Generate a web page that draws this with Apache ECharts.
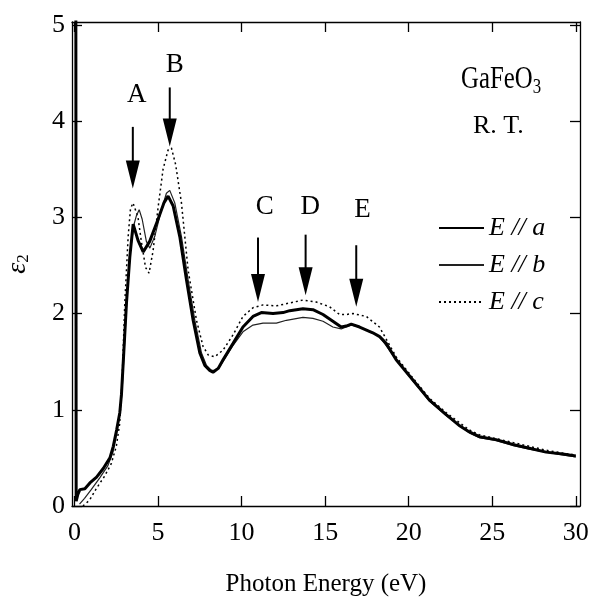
<!DOCTYPE html>
<html>
<head>
<meta charset="utf-8">
<script src="https://cdn.jsdelivr.net/npm/echarts@6/dist/echarts.min.js"></script>
<style>
html,body{margin:0;padding:0;background:#fff;}
#chart{width:592px;height:600px;}
</style>
</head>
<body>
<div id="chart"></div>
<script>
// eps2 spectra of GaFeO3 [energy eV, eps2]
var curveA = [[0.08,5.2],[0.1,0.05],[0.2,0.12],[0.32,0.17],[0.62,0.18],[0.92,0.24],[1.32,0.30],[1.72,0.39],[2.12,0.50],[2.32,0.62],[2.52,0.79],[2.71,0.97],[2.81,1.16],[2.95,1.6],[3.11,2.11],[3.31,2.59],[3.51,2.93],[3.61,2.92],[3.8,2.76],[4.11,2.64],[4.5,2.75],[5.0,2.98],[5.35,3.15],[5.6,3.22],[5.9,3.12],[6.3,2.80],[6.7,2.35],[7.1,1.93],[7.5,1.59],[7.8,1.46],[8.09,1.41],[8.29,1.39],[8.6,1.43],[8.89,1.52],[9.49,1.69],[10.08,1.86],[10.68,1.97],[11.18,2.01],[11.88,2.00],[12.48,2.01],[12.88,2.03],[13.67,2.05],[14.27,2.04],[14.87,1.99],[15.46,1.92],[15.96,1.86],[16.26,1.87],[16.56,1.89],[17.06,1.86],[17.85,1.80],[18.26,1.76],[18.65,1.69],[19.25,1.52],[20.25,1.31],[21.24,1.10],[22.24,0.95],[23.0,0.84],[23.63,0.77],[24.23,0.72],[25.23,0.69],[26.22,0.64],[27.22,0.60],[28.22,0.56],[29.21,0.54],[30.0,0.52]];
var curveB = [[0.3,0.02],[0.6,0.08],[1.0,0.17],[1.5,0.29],[2.0,0.42],[2.3,0.56],[2.55,0.78],[2.75,1.0],[2.85,1.2],[3.0,1.7],[3.15,2.2],[3.35,2.65],[3.55,2.92],[3.71,3.02],[3.87,3.08],[4.05,2.98],[4.3,2.75],[4.51,2.68],[4.8,2.8],[5.2,3.08],[5.5,3.25],[5.7,3.28],[6.0,3.15],[6.4,2.80],[6.8,2.35],[7.2,1.93],[7.6,1.59],[7.9,1.46],[8.2,1.41],[8.39,1.41],[8.7,1.45],[9.0,1.53],[9.49,1.67],[10.08,1.81],[10.68,1.88],[11.28,1.90],[12.08,1.90],[12.68,1.93],[13.67,1.96],[14.27,1.95],[14.87,1.92],[15.46,1.86],[15.96,1.84],[16.26,1.86],[16.56,1.88],[17.06,1.86],[17.85,1.80],[18.26,1.76],[19.25,1.52],[20.25,1.30],[21.24,1.09],[22.24,0.94],[23.63,0.76],[24.23,0.71],[25.23,0.68],[26.22,0.63],[27.22,0.59],[28.22,0.56],[29.21,0.53],[30.0,0.51]];
var curveC = [[0.5,0.0],[0.9,0.06],[1.3,0.18],[1.8,0.31],[2.2,0.44],[2.5,0.62],[2.7,0.85],[2.85,1.3],[3.01,2.11],[3.21,2.80],[3.35,3.09],[3.5,3.15],[3.61,3.16],[3.8,3.0],[4.0,2.75],[4.25,2.48],[4.46,2.42],[4.7,2.65],[5.0,3.1],[5.3,3.5],[5.6,3.70],[5.8,3.72],[6.05,3.55],[6.4,3.15],[6.8,2.45],[7.3,1.93],[7.69,1.66],[8.0,1.57],[8.39,1.55],[8.89,1.62],[9.49,1.78],[10.08,1.97],[10.68,2.06],[11.28,2.09],[12.08,2.08],[12.88,2.11],[13.67,2.14],[14.47,2.12],[15.27,2.07],[15.86,1.99],[16.26,1.99],[16.66,2.00],[17.46,1.97],[18.25,1.86],[19.25,1.55],[20.25,1.33],[21.24,1.12],[22.24,0.97],[23.63,0.79],[24.23,0.74],[25.23,0.70],[26.22,0.66],[27.22,0.62],[28.22,0.58],[29.21,0.55],[30.0,0.53]];

var seriesNames = ['E // a', 'E // b', 'E // c'];

// arrows A-E: x, tip y, tail y, letter x, letter y
var arrowLetters = ['A','B','C','D','E'];
var arrowX = [3.49, 5.70, 10.98, 13.83, 16.86];
var arrowTip = [3.30, 3.735, 2.12, 2.19, 2.07];
var arrowTail = [3.94, 4.35, 2.79, 2.82, 2.71];
var letterX = [3.73, 6.0, 11.38, 14.1, 17.24];
var letterY = [4.27, 4.58, 3.11, 3.11, 3.08];

var xTicks = [0, 5, 10, 15, 20, 25, 30];
var yTicks = [0, 1, 2, 3, 4, 5];

var serif = "'Liberation Serif','Times New Roman',serif";

var arrowData = [];
for (var i = 0; i < arrowX.length; i++) {
    arrowData.push([arrowX[i], arrowTip[i], arrowTail[i], letterX[i], letterY[i]]);
}

var chart = echarts.init(document.getElementById('chart'));

var frameLine = {onZero: false, lineStyle: {color: '#000', width: 1.3}};
var tickIn = {inside: true, length: 10, lineStyle: {color: '#000', width: 1.3}};

option = {
    backgroundColor: '#fff',
    animation: false,
    grid: {left: 72, right: 12, top: 22, bottom: 94, containLabel: false, outerBoundsMode: 'none'},
    legend: {
        data: seriesNames,
        orient: 'vertical',
        left: 438,
        top: 213,
        padding: 0,
        itemWidth: 45,
        itemHeight: 14,
        itemGap: 7,
        itemStyle: {opacity: 0},
        textStyle: {fontFamily: serif, fontStyle: 'italic', fontSize: 26, lineHeight: 30, color: '#000'}
    },
    xAxis: [{
        type: 'value',
        min: -0.15,
        max: 30.25,
        position: 'bottom',
        axisLine: frameLine,
        axisTick: Object.assign({customValues: xTicks}, tickIn),
        axisLabel: {customValues: xTicks, margin: 14, color: '#000', fontFamily: serif, fontSize: 26},
        splitLine: {show: false},
        name: 'Photon Energy (eV)',
        nameLocation: 'middle',
        nameGap: 66,
        nameTextStyle: {color: '#000', fontFamily: serif, fontSize: 25}
    }, {
        type: 'value',
        min: -0.15,
        max: 30.25,
        position: 'top',
        axisLine: frameLine,
        axisTick: Object.assign({customValues: xTicks}, tickIn),
        axisLabel: {show: false},
        splitLine: {show: false}
    }],
    yAxis: [{
        type: 'value',
        min: 0,
        max: 5.03,
        position: 'left',
        axisLine: frameLine,
        axisTick: Object.assign({customValues: yTicks}, tickIn),
        axisLabel: {customValues: yTicks, margin: 7, color: '#000', fontFamily: serif, fontSize: 26},
        splitLine: {show: false},
        name: '{e|ε}{s|2}',
        nameLocation: 'middle',
        nameGap: 40,
        nameTextStyle: {
            color: '#000',
            rich: {
                e: {fontFamily: serif, fontStyle: 'italic', fontSize: 28, color: '#000'},
                s: {fontFamily: serif, fontSize: 17, color: '#000', padding: [12, 0, 0, 0]}
            }
        }
    }, {
        type: 'value',
        min: 0,
        max: 5.03,
        position: 'right',
        axisLine: frameLine,
        axisTick: Object.assign({customValues: yTicks}, tickIn),
        axisLabel: {show: false},
        splitLine: {show: false}
    }],
    graphic: [{
        type: 'text',
        left: 461,
        top: 64,
        scaleX: 0.8,
        style: {
            rich: {
                m: {fontFamily: serif, fontSize: 31, color: '#000'},
                s: {fontFamily: serif, fontSize: 21, color: '#000', padding: [16, 0, 0, 0]}
            },
            text: '{m|GaFeO}{s|3}'
        }
    }, {
        type: 'text',
        left: 473,
        top: 113,
        style: {text: 'R. T.', fontFamily: serif, fontSize: 26, fill: '#000'}
    }],
    series: [{
        name: seriesNames[0],
        type: 'line',
        data: curveA,
        showSymbol: false,
        symbol: 'none',
        itemStyle: {color: '#000'},
        lineStyle: {color: '#000', width: 3},
        z: 5
    }, {
        name: seriesNames[1],
        type: 'line',
        data: curveB,
        showSymbol: false,
        symbol: 'none',
        itemStyle: {color: '#222'},
        lineStyle: {color: '#222', width: 1.2},
        z: 4
    }, {
        name: seriesNames[2],
        type: 'line',
        data: curveC,
        showSymbol: false,
        symbol: 'none',
        itemStyle: {color: '#000'},
        lineStyle: {color: '#000', width: 1.5, type: [2, 3]},
        z: 3
    }, {
        name: 'arrows',
        type: 'custom',
        data: arrowData,
        silent: true,
        renderItem: function (params, api) {
            var tail = api.coord([api.value(0), api.value(2)]);
            var tip = api.coord([api.value(0), api.value(1)]);
            var lab = api.coord([api.value(3), api.value(4)]);
            return {
                type: 'group',
                children: [{
                    type: 'line',
                    shape: {x1: tail[0], y1: tail[1], x2: tip[0], y2: tip[1] - 24},
                    style: {stroke: '#000', lineWidth: 2}
                }, {
                    type: 'polygon',
                    shape: {points: [[tip[0] - 7, tip[1] - 28], [tip[0] + 7, tip[1] - 28], [tip[0], tip[1]]]},
                    style: {fill: '#000'}
                }, {
                    type: 'text',
                    style: {
                        text: arrowLetters[params.dataIndex],
                        x: lab[0],
                        y: lab[1],
                        align: 'center',
                        verticalAlign: 'middle',
                        fontFamily: serif,
                        fontSize: 27,
                        fill: '#000'
                    }
                }]
            };
        }
    }]
};
chart.setOption(option);
</script>
</body>
</html>
